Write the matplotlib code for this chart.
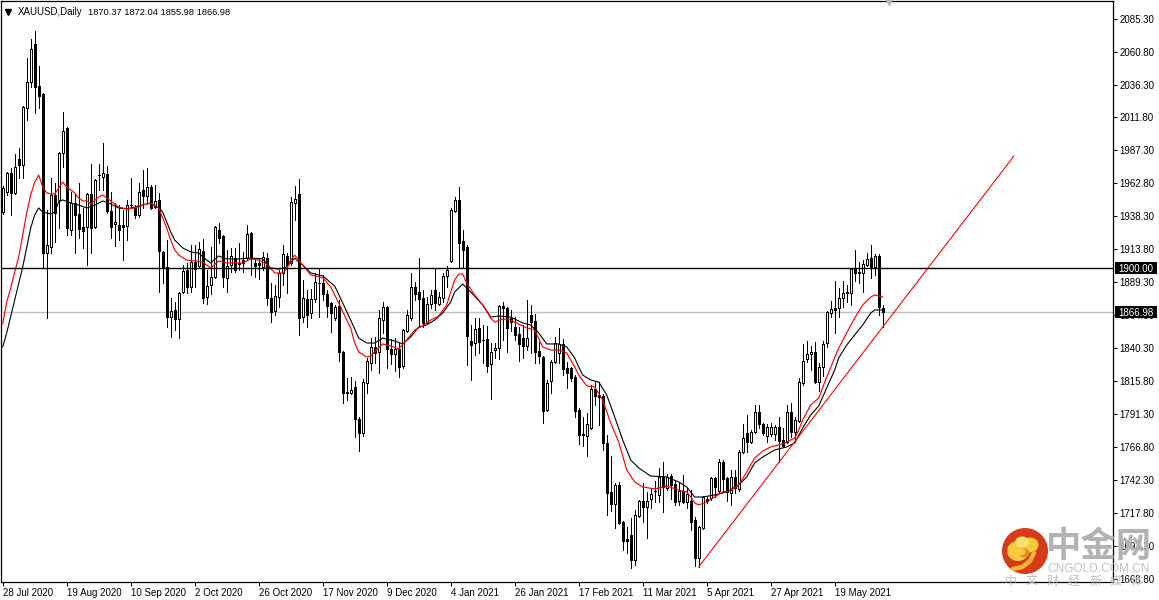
import matplotlib
matplotlib.use('Agg')
import matplotlib.pyplot as plt
from matplotlib.patches import Circle, Ellipse, Rectangle
from matplotlib.transforms import blended_transform_factory

# Daily XAUUSD bars. First bar sits half behind the left edge.
first_bar = -1
opens = [1972.8, 1941.5, 1956.4, 1970.5, 1955.7, 1980.9, 1976.5, 2018.8, 2038.2, 2066.4, 2035.2,
    2029.3, 1911.0, 1915.5, 1954.2, 1950.5, 1985.4, 2004.0, 1928.1, 1948.2, 1940.0,
    1930.4, 1930.4, 1954.9, 1930.4, 1969.0, 1967.5, 1969.8, 1942.3, 1932.6, 1931.9,
    1931.9, 1931.1, 1946.7, 1944.5, 1939.3, 1957.9, 1953.4, 1960.1, 1945.2, 1950.5,
    1911.8, 1900.6, 1863.4, 1868.7, 1862.0, 1882.0, 1898.4, 1885.8, 1904.3, 1901.4,
    1912.5, 1878.3, 1887.2, 1893.2, 1928.1, 1923.7, 1892.5, 1902.1, 1907.3, 1903.6,
    1905.8, 1907.3, 1925.9, 1903.6, 1903.6, 1900.6, 1907.3, 1877.6, 1867.9, 1878.3,
    1896.2, 1908.8, 1903.6, 1948.2, 1954.9, 1863.4, 1876.8, 1866.4, 1876.8, 1888.7,
    1888.7, 1880.6, 1873.9, 1862.7, 1871.6, 1837.4, 1807.7, 1807.0, 1811.4, 1787.6,
    1777.2, 1814.4, 1829.2, 1841.2, 1837.4, 1861.2, 1870.9, 1839.7, 1835.9, 1839.7,
    1827.0, 1853.1, 1862.7, 1885.8, 1882.0, 1877.6, 1859.7, 1873.1, 1883.5, 1873.1,
    1877.6, 1893.9, 1905.1, 1942.3, 1950.5, 1919.9, 1915.5, 1845.6, 1844.1, 1855.3,
    1846.4, 1847.1, 1828.5, 1838.9, 1840.4, 1871.6, 1870.2, 1862.7, 1856.0, 1850.8,
    1847.8, 1841.9, 1864.9, 1860.5, 1838.2, 1833.7, 1794.3, 1815.9, 1830.0, 1836.7,
    1843.4, 1825.5, 1825.5, 1818.8, 1794.3, 1776.5, 1775.0, 1780.9, 1809.9, 1805.5,
    1804.7, 1769.8, 1733.4, 1724.4, 1738.6, 1711.0, 1698.4, 1701.4, 1682.8, 1715.5,
    1726.7, 1722.2, 1728.2, 1734.1, 1731.1, 1744.5, 1736.3, 1745.2, 1739.3, 1726.7,
    1734.1, 1725.9, 1726.7, 1712.5, 1684.3, 1706.6, 1728.2, 1728.9, 1743.8, 1734.1,
    1755.7, 1743.8, 1732.6, 1744.5, 1735.6, 1763.1, 1777.2, 1770.5, 1778.0, 1792.8,
    1783.9, 1775.0, 1776.5, 1776.5, 1781.7, 1772.0, 1770.5, 1792.8, 1778.0, 1786.1,
    1814.4, 1832.2, 1835.9, 1837.4, 1815.1, 1826.3, 1844.1, 1866.4, 1870.2, 1870.2,
    1877.6, 1882.0, 1881.3, 1899.1, 1896.9, 1896.2, 1902.1, 1907.3, 1900.6, 1908.8,
    1870.37]
highs = [1981.7, 1960.9, 1971.3, 1974.2, 1984.6, 1989.1, 2020.3, 2056.0, 2070.2, 2076.1, 2050.1,
    2030.0, 1943.0, 1966.8, 1963.1, 1986.1, 2015.9, 2004.7, 1956.4, 1954.9, 1963.1,
    1944.5, 1955.7, 1977.2, 1966.1, 1977.2, 1992.8, 1975.7, 1956.4, 1948.2, 1946.7,
    1943.0, 1950.5, 1966.8, 1946.7, 1963.1, 1972.8, 1974.2, 1961.6, 1961.6, 1955.7,
    1912.5, 1920.7, 1877.6, 1874.6, 1882.0, 1902.1, 1903.6, 1917.0, 1917.0, 1919.2,
    1921.4, 1898.4, 1915.5, 1931.1, 1933.4, 1924.4, 1913.3, 1914.8, 1914.8, 1918.5,
    1911.8, 1931.9, 1926.7, 1906.6, 1907.3, 1911.8, 1911.0, 1888.7, 1887.2, 1898.4,
    1917.0, 1911.0, 1952.7, 1960.9, 1966.1, 1891.0, 1883.5, 1884.3, 1896.2, 1899.1,
    1894.7, 1883.5, 1874.6, 1872.4, 1876.1, 1838.2, 1818.1, 1818.8, 1815.9, 1789.1,
    1817.3, 1833.0, 1847.8, 1848.6, 1868.7, 1874.6, 1871.6, 1847.1, 1847.8, 1844.1,
    1854.5, 1868.7, 1896.2, 1889.5, 1907.3, 1883.5, 1878.3, 1883.5, 1899.9, 1882.0,
    1896.2, 1901.4, 1944.5, 1952.7, 1960.1, 1928.1, 1917.0, 1857.5, 1862.7, 1862.7,
    1857.5, 1856.8, 1844.1, 1844.1, 1872.4, 1874.6, 1870.9, 1868.7, 1863.4, 1856.0,
    1857.5, 1876.1, 1872.4, 1865.7, 1844.9, 1834.5, 1816.6, 1831.5, 1848.6, 1855.3,
    1847.1, 1830.0, 1826.3, 1820.3, 1795.8, 1789.1, 1792.1, 1812.9, 1815.1, 1815.1,
    1806.2, 1775.7, 1760.1, 1740.0, 1740.8, 1711.8, 1707.3, 1714.0, 1720.0, 1727.4,
    1740.0, 1733.4, 1736.3, 1741.5, 1751.2, 1755.7, 1746.7, 1746.7, 1742.3, 1740.8,
    1746.0, 1736.3, 1734.8, 1714.8, 1708.1, 1730.4, 1729.6, 1744.5, 1744.5, 1757.9,
    1757.2, 1744.5, 1749.7, 1749.7, 1764.6, 1783.9, 1790.6, 1779.4, 1798.0, 1798.0,
    1784.6, 1783.9, 1784.6, 1783.2, 1789.1, 1780.9, 1798.0, 1799.5, 1789.1, 1818.1,
    1843.4, 1845.6, 1841.9, 1844.9, 1829.2, 1845.6, 1867.9, 1875.3, 1890.2, 1885.0,
    1890.2, 1887.2, 1899.9, 1913.3, 1904.3, 1905.8, 1911.0, 1917.0, 1910.3, 1910.3,
    1872.04]
lows = [1907.3, 1940.0, 1954.2, 1939.3, 1954.9, 1966.8, 1966.8, 2009.9, 2034.5, 2015.1, 2018.8,
    1900.6, 1862.7, 1911.0, 1919.2, 1929.6, 1975.0, 1924.4, 1924.4, 1911.0, 1922.2,
    1914.8, 1902.1, 1911.0, 1929.6, 1957.9, 1957.9, 1940.8, 1922.2, 1916.3, 1920.7,
    1905.8, 1920.7, 1944.5, 1937.1, 1937.8, 1944.5, 1948.2, 1943.8, 1944.5, 1882.0,
    1888.7, 1856.0, 1848.6, 1853.8, 1847.8, 1881.3, 1881.3, 1882.0, 1885.8, 1900.6,
    1873.9, 1873.1, 1880.6, 1892.5, 1918.5, 1885.8, 1882.0, 1896.9, 1896.9, 1898.4,
    1896.9, 1906.6, 1894.7, 1893.2, 1891.7, 1898.4, 1872.4, 1859.7, 1864.9, 1870.9,
    1887.2, 1881.3, 1902.1, 1935.6, 1850.1, 1859.7, 1856.0, 1862.7, 1874.6, 1863.4,
    1876.1, 1863.4, 1852.3, 1861.2, 1830.7, 1799.5, 1801.7, 1806.2, 1774.2, 1763.8,
    1775.0, 1807.0, 1824.0, 1829.2, 1821.8, 1851.6, 1825.5, 1828.5, 1823.3, 1818.8,
    1825.5, 1852.3, 1861.2, 1876.1, 1856.8, 1856.0, 1859.0, 1870.2, 1868.7, 1872.4,
    1874.6, 1885.8, 1904.3, 1941.5, 1900.6, 1899.9, 1827.8, 1816.6, 1835.2, 1836.7,
    1829.2, 1822.6, 1802.5, 1833.0, 1832.2, 1846.4, 1837.4, 1853.1, 1846.4, 1830.7,
    1833.0, 1838.9, 1836.7, 1829.2, 1829.2, 1784.6, 1793.6, 1807.0, 1829.2, 1829.2,
    1820.3, 1810.7, 1815.9, 1789.1, 1769.0, 1767.5, 1760.1, 1780.2, 1798.0, 1783.2,
    1764.6, 1716.2, 1719.2, 1706.6, 1709.5, 1690.2, 1688.0, 1676.8, 1679.1, 1714.8,
    1711.0, 1699.1, 1721.5, 1725.9, 1725.9, 1718.5, 1734.8, 1728.2, 1723.7, 1723.7,
    1725.2, 1721.5, 1705.1, 1678.3, 1677.6, 1705.8, 1725.2, 1727.4, 1729.6, 1733.4,
    1733.4, 1726.7, 1723.7, 1732.6, 1734.1, 1762.3, 1763.1, 1769.8, 1777.2, 1780.9,
    1775.7, 1770.5, 1775.0, 1772.0, 1755.7, 1766.8, 1769.8, 1774.2, 1770.5, 1785.4,
    1812.9, 1830.0, 1824.0, 1814.4, 1808.4, 1819.6, 1841.2, 1863.4, 1851.6, 1863.4,
    1870.9, 1874.6, 1872.4, 1890.2, 1888.7, 1882.0, 1901.4, 1892.5, 1894.7, 1864.9,
    1855.98]
closes = [1907.3, 1959.4, 1970.5, 1955.7, 1975.0, 1976.5, 2019.6, 2038.2, 2062.7, 2034.5, 2027.8,
    1911.0, 1917.0, 1954.2, 1940.8, 1985.4, 2001.8, 1929.6, 1948.2, 1939.3, 1928.9,
    1927.4, 1954.9, 1929.6, 1965.3, 1968.8, 1970.5, 1942.3, 1930.4, 1934.1, 1928.1,
    1930.4, 1946.7, 1946.5, 1939.3, 1956.4, 1953.4, 1960.1, 1944.5, 1949.7, 1912.5,
    1900.6, 1863.4, 1867.9, 1862.0, 1881.3, 1897.7, 1885.8, 1904.3, 1899.1, 1914.0,
    1877.6, 1886.5, 1893.2, 1930.4, 1922.2, 1893.2, 1901.4, 1908.8, 1898.4, 1902.9,
    1903.6, 1925.2, 1907.3, 1901.4, 1902.1, 1908.1, 1877.6, 1867.2, 1879.1, 1896.2,
    1910.3, 1902.1, 1949.0, 1951.2, 1862.7, 1877.6, 1864.9, 1876.8, 1889.5, 1888.5,
    1880.6, 1871.6, 1866.4, 1870.9, 1837.4, 1807.0, 1807.0, 1809.2, 1787.6, 1777.2,
    1815.1, 1830.7, 1841.2, 1836.7, 1862.7, 1870.9, 1839.7, 1835.9, 1839.7, 1826.3,
    1853.8, 1864.9, 1885.8, 1880.6, 1876.8, 1859.0, 1873.1, 1879.8, 1873.9, 1878.3,
    1893.9, 1898.4, 1943.0, 1950.5, 1918.5, 1913.3, 1849.3, 1842.6, 1854.5, 1844.9,
    1846.2, 1827.0, 1837.4, 1840.4, 1871.6, 1870.2, 1855.3, 1859.7, 1850.1, 1843.4,
    1841.9, 1847.8, 1859.7, 1837.4, 1834.5, 1793.6, 1814.4, 1830.0, 1844.1, 1843.4,
    1824.8, 1821.8, 1818.1, 1793.6, 1775.7, 1775.7, 1783.9, 1809.9, 1804.7, 1804.0,
    1769.8, 1732.6, 1724.4, 1738.6, 1710.3, 1696.9, 1696.9, 1682.8, 1716.2, 1726.7,
    1722.2, 1726.7, 1731.9, 1733.7, 1744.5, 1737.1, 1744.5, 1738.6, 1725.9, 1734.1,
    1725.9, 1731.9, 1711.0, 1684.3, 1707.3, 1729.6, 1726.7, 1743.8, 1737.1, 1755.7,
    1743.0, 1733.4, 1744.5, 1736.3, 1763.1, 1773.5, 1770.5, 1778.0, 1792.8, 1783.9,
    1777.2, 1781.7, 1781.7, 1781.7, 1771.3, 1767.5, 1792.8, 1778.0, 1786.9, 1815.1,
    1830.7, 1835.9, 1837.4, 1815.1, 1826.3, 1843.4, 1867.2, 1869.4, 1868.7, 1877.6,
    1881.3, 1881.3, 1899.1, 1896.2, 1896.5, 1902.9, 1906.6, 1899.9, 1908.8, 1870.9,
    1866.98]

# Two moving averages, read at every couple of bars
red_bars = [0, 1, 2, 3, 4, 5, 6, 7, 8, 9, 10, 11, 12, 13, 14, 15, 16, 17, 18, 19, 20, 21, 22, 24, 25,
    27, 29, 31, 33, 35, 37, 39, 40, 41, 42, 43, 44, 46, 48, 50, 52, 54, 56, 58, 60, 62, 64, 66, 68,
    70, 71, 72, 73, 74, 75, 77, 80, 82, 84, 86, 87, 88, 89, 91, 92, 94, 95, 97, 99, 101, 103, 105,
    107, 109, 111, 112, 113, 114, 115, 116, 118, 120, 122, 123, 125, 127, 129, 131, 133, 135, 137,
    139, 141, 143, 144, 146, 148, 150, 152, 154, 156, 158, 160, 163, 166, 169, 171, 172, 173, 174,
    176, 178, 180, 182, 184, 186, 188, 190, 192, 194, 196, 198, 199, 200, 202, 204, 206, 209, 211,
    213, 215, 217, 218, 220]
red_ma = [1858.3, 1874.6, 1885.0, 1896.9, 1908.1, 1924.4, 1940.8, 1954.2, 1963.8, 1969.0, 1960.1,
    1955.7, 1954.9, 1954.9, 1959.4, 1963.8, 1960.1, 1957.9, 1955.7, 1951.9, 1949.7, 1949.7, 1947.5,
    1952.7, 1954.2, 1949.7, 1945.2, 1943.8, 1944.5, 1946.7, 1948.2, 1944.5, 1937.1, 1929.6, 1920.7,
    1913.3, 1909.5, 1905.8, 1905.1, 1904.3, 1899.9, 1905.1, 1903.6, 1903.6, 1903.6, 1906.6, 1905.8,
    1902.9, 1896.2, 1896.2, 1899.1, 1905.8, 1909.5, 1905.8, 1902.1, 1894.7, 1892.5, 1885.8, 1873.9,
    1861.2, 1855.3, 1844.1, 1837.4, 1833.7, 1834.5, 1840.4, 1843.4, 1841.9, 1839.7, 1846.4, 1853.8,
    1856.8, 1861.2, 1864.2, 1872.4, 1882.0, 1891.0, 1895.4, 1895.4, 1888.7, 1879.8, 1872.4, 1862.7,
    1859.7, 1862.0, 1861.2, 1858.2, 1855.3, 1853.8, 1841.2, 1838.9, 1838.9, 1836.7, 1826.3, 1820.3,
    1812.2, 1811.4, 1801.7, 1784.6, 1770.5, 1749.7, 1740.8, 1737.1, 1735.6, 1737.8, 1734.8, 1733.4,
    1729.6, 1725.2, 1723.7, 1725.9, 1729.6, 1733.4, 1734.1, 1738.6, 1748.2, 1758.6, 1763.8, 1766.8,
    1768.3, 1770.5, 1773.5, 1779.4, 1786.9, 1798.0, 1803.2, 1818.8, 1840.4, 1851.6, 1862.7, 1872.4,
    1878.3, 1879.8, 1878.3]
black_bars = [0, 1, 3, 5, 7, 8, 9, 10, 12, 13, 14, 15, 17, 19, 21, 23, 25, 27, 29, 31, 33, 35, 37, 39,
    40, 41, 42, 43, 45, 47, 49, 51, 52, 54, 56, 59, 62, 65, 67, 69, 71, 73, 74, 75, 77, 80, 83, 85,
    87, 89, 91, 93, 95, 98, 100, 102, 104, 106, 108, 110, 112, 113, 115, 117, 120, 122, 124, 127,
    130, 132, 134, 136, 139, 141, 143, 144, 145, 147, 149, 151, 153, 155, 157, 159, 162, 166, 169,
    171, 173, 175, 178, 181, 184, 186, 188, 190, 193, 196, 198, 200, 202, 204, 206, 208, 209, 211,
    213, 215, 217, 218, 220]
black_ma = [1841.2, 1851.6, 1876.1, 1900.6, 1929.6, 1939.3, 1944.5, 1941.5, 1940.0, 1941.5, 1949.0,
    1950.5, 1948.2, 1946.7, 1944.5, 1946.7, 1949.7, 1947.5, 1944.5, 1943.8, 1945.2, 1946.7, 1948.2,
    1944.5, 1941.5, 1934.1, 1926.7, 1920.7, 1914.8, 1911.8, 1911.0, 1905.8, 1903.6, 1908.8, 1906.6,
    1906.6, 1907.3, 1906.6, 1899.9, 1899.1, 1900.6, 1907.3, 1904.3, 1902.1, 1896.2, 1893.9, 1886.5,
    1873.9, 1861.2, 1847.8, 1844.1, 1844.1, 1847.8, 1845.6, 1843.4, 1848.6, 1856.0, 1857.5, 1861.2,
    1866.4, 1874.6, 1882.0, 1888.0, 1882.0, 1872.4, 1863.4, 1864.2, 1863.4, 1859.0, 1857.5, 1851.6,
    1843.4, 1843.4, 1841.2, 1833.0, 1826.3, 1820.3, 1816.6, 1815.1, 1805.5, 1789.1, 1772.0, 1757.1,
    1751.2, 1745.2, 1744.5, 1740.8, 1737.1, 1729.6, 1729.6, 1731.1, 1733.4, 1738.6, 1744.5, 1754.9,
    1759.4, 1764.6, 1766.8, 1769.8, 1780.9, 1790.6, 1797.3, 1810.7, 1824.0, 1833.0, 1842.6, 1850.1,
    1857.5, 1866.4, 1868.7, 1868.7]

# Trend line drawn on the chart, start and end as bar number and price
trend_bars = [174, 252.8]
trend_prices = [1677.6, 1983.1]

level_line = 1900.00
last_price = 1866.98

price_ticks = [2085.30, 2060.80, 2036.30, 2011.80, 1987.30, 1962.80, 1938.30, 1913.80, 1889.30,
    1864.80, 1840.30, 1815.80, 1791.30, 1766.80, 1742.30, 1717.80, 1693.30, 1668.80]
date_labels = ['28 Jul 2020', '19 Aug 2020', '10 Sep 2020', '2 Oct 2020', '26 Oct 2020', '17 Nov 2020',
    '9 Dec 2020', '4 Jan 2021', '26 Jan 2021', '17 Feb 2021', '11 Mar 2021', '5 Apr 2021',
    '27 Apr 2021', '19 May 2021']
date_bars = list(range(0, 16 * len(date_labels), 16))

W, H = 1159, 600
UI_FONT = 'Liberation Sans'
UI_SIZE = 7.0
PX = 0.72  # one pixel as a line width at dpi 100


def Draw_Candles(ax):
    bars = list(range(first_bar, first_bar + len(closes)))
    ax.vlines(bars, lows, highs, colors='black', linewidth=PX, zorder=2, antialiased=False)
    for i, o, c in zip(bars, opens, closes):
        face = 'white' if c > o else 'black'
        ax.bar(i, abs(c - o), bottom=min(o, c), width=0.5, facecolor=face, edgecolor='black',
               linewidth=PX, zorder=3, antialiased=False)


def Price_Box(ax, price):
    # black flag on the price scale, 43 by 12 pixels
    trans = blended_transform_factory(ax.transAxes, ax.transData)
    ax.add_patch(Rectangle((1.0015, price - 4.4), 0.0385, 8.9, transform=trans, facecolor='black',
                           edgecolor='none', clip_on=False, zorder=9))
    ax.text(1.0052, price, '%.2f' % price, transform=trans, ha='left', va='center_baseline',
            fontsize=UI_SIZE, family=UI_FONT, color='white', zorder=10, clip_on=False)


def Draw_Logo(fig):
    # Watermark in the lower right corner, in image pixels
    over = fig.add_axes([0, 0, 1, 1], zorder=20)
    over.set_xlim(0, W)
    over.set_ylim(H, 0)
    over.axis('off')
    over.patch.set_alpha(0)
    over.plot(889, 2, marker='v', markersize=5, color='#b8b8b8', clip_on=False)
    over.add_patch(Circle((1025, 551), 23, facecolor='#d43c17', edgecolor='none'))
    over.add_patch(Ellipse((1018, 551), 22, 20, facecolor='#f8c93f', edgecolor='none'))
    over.add_patch(Ellipse((1030, 545), 17, 15, facecolor='#f8c93f', edgecolor='none'))
    over.add_patch(Ellipse((1022, 542), 14, 11, facecolor='#fbe070', edgecolor='none'))
    over.add_patch(Ellipse((1024, 553), 11, 9, facecolor='#e58a20', edgecolor='none'))
    over.add_patch(Ellipse((1021, 552), 9, 7, facecolor='#f8c93f', edgecolor='none'))
    over.plot([1034, 1030, 1022, 1013], [553, 561, 567, 569], color='#f5b52f', linewidth=3.2,
              solid_capstyle='round')
    over.text(1099, 547, '中金网', fontsize=25.5, fontweight='bold', color='#b3b3b3', ha='center',
              va='center', family=['Noto Sans CJK SC', 'DejaVu Sans'])
    over.text(1099, 569, 'CNGOLD.COM.CN', fontsize=8.6, color='#c2c2c2', ha='center', va='center',
              family='Liberation Sans')
    for i, ch in enumerate('中文财经新媒体'):
        over.text(1011 + i * 21, 581, ch, fontsize=8.6, color='#bdbdbd', ha='center', va='center',
                  family=['Noto Sans CJK SC', 'DejaVu Sans'])


fig = plt.figure(figsize=(W / 100, H / 100), dpi=100, facecolor='white')
ax = fig.add_axes([1 / W, (H - 582) / H, 1112 / W, 581 / H])
ax.set_xlim(-0.425, 277.575)
ax.set_ylim(1666.4, 2098.4)

Draw_Candles(ax)
ax.plot(black_bars, black_ma, color='black', linewidth=0.8, zorder=4)
ax.plot(red_bars, red_ma, color='red', linewidth=0.85, zorder=5)
ax.plot(trend_bars, trend_prices, color='red', linewidth=0.8, zorder=5)
ax.axhline(level_line, color='black', linewidth=1.0, zorder=6)
ax.axhline(last_price, color='#c0c0c0', linewidth=1.0, zorder=1)

for side in ax.spines.values():
    side.set_linewidth(0.9)
ax.yaxis.tick_right()
ax.set_yticks(price_ticks)
ax.set_yticklabels(['%.2f' % p for p in price_ticks], family=UI_FONT, fontsize=UI_SIZE)
ax.set_xticks(date_bars)
ax.set_xticklabels(date_labels, family=UI_FONT, fontsize=UI_SIZE, ha='left')
ax.tick_params(axis='y', length=3, width=PX, pad=1.5)
ax.tick_params(axis='x', length=3, width=PX, pad=1.5)

Price_Box(ax, level_line)
Price_Box(ax, last_price)

# Header of the chart window
ax.plot([7 / 1112], [0.9815], marker='v', markersize=4.5, color='black', transform=ax.transAxes, zorder=8)
ax.text(17 / 1112, 0.981, 'XAUUSD,Daily', transform=ax.transAxes, fontsize=UI_SIZE, family=UI_FONT,
        va='center', ha='left', color='black')
ax.text(87 / 1112, 0.981, '1870.37 1872.04 1855.98 1866.98', transform=ax.transAxes, fontsize=6.7,
        family=UI_FONT, va='center', ha='left', color='black')

Draw_Logo(fig)

fig.savefig('out.png', dpi=100)
